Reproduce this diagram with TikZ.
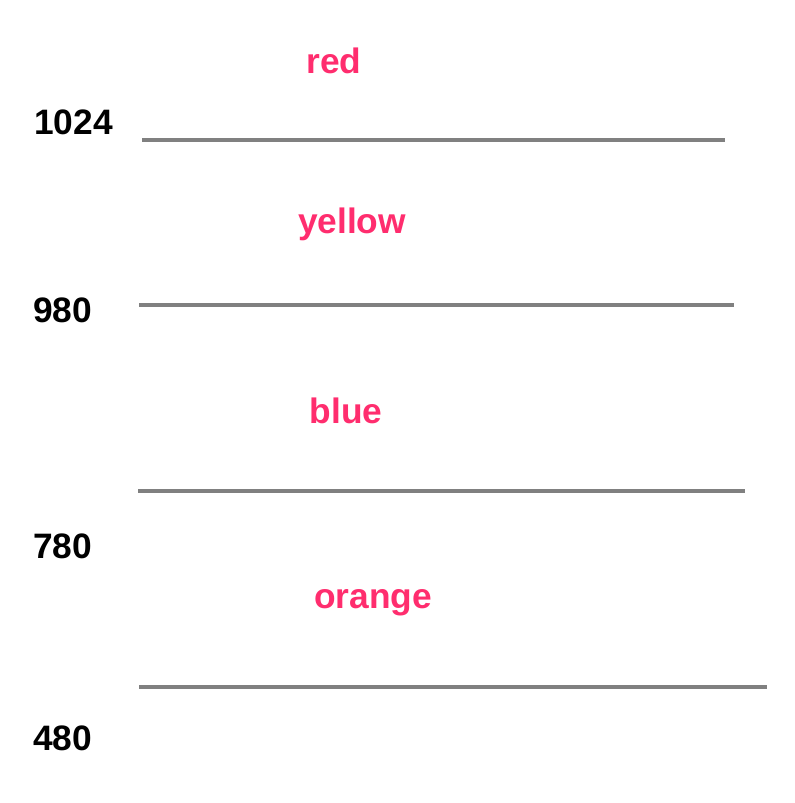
\documentclass[tikz,border=0pt]{standalone}
\usepackage{fontspec}
\setmainfont{Liberation Sans}
\definecolor{lblpink}{RGB}{255,45,110}
\definecolor{linegray}{RGB}{128,128,128}
\begin{document}
\begin{tikzpicture}[x=0.75pt,y=-0.75pt,
  level/.style={draw=linegray,line width=2.6pt},
  num/.style={anchor=base west,inner sep=0pt,font=\fontsize{26.5}{30}\selectfont\bfseries,text=black},
  lbl/.style={anchor=base,inner sep=0pt,font=\fontsize{26.5}{30}\selectfont\bfseries,text=lblpink}]
\useasboundingbox[fill=white] (0,0) rectangle (795,803);
% labels
\node[lbl] (red) at (334,73) {red};
\node[lbl] (yellow) at (352,233) {yellow};
\node[lbl] (blue) at (346,423) {blue};
\node[lbl] (orange) at (373,608) {orange};
% numbers
\node[num] (n1024) at (34,134) {1024};
\node[num] (n980) at (33,322) {980};
\node[num] (n780) at (33,558) {780};
\node[num] (n480) at (33,750) {480};
% lines
\coordinate (a1) at (142,140); \coordinate (b1) at (725,140);
\coordinate (a2) at (139,305); \coordinate (b2) at (734,305);
\coordinate (a3) at (138,491); \coordinate (b3) at (745,491);
\coordinate (a4) at (139,687); \coordinate (b4) at (767,687);
\draw[level] (a1) -- (b1);
\draw[level] (a2) -- (b2);
\draw[level] (a3) -- (b3);
\draw[level] (a4) -- (b4);
\end{tikzpicture}
\end{document}
